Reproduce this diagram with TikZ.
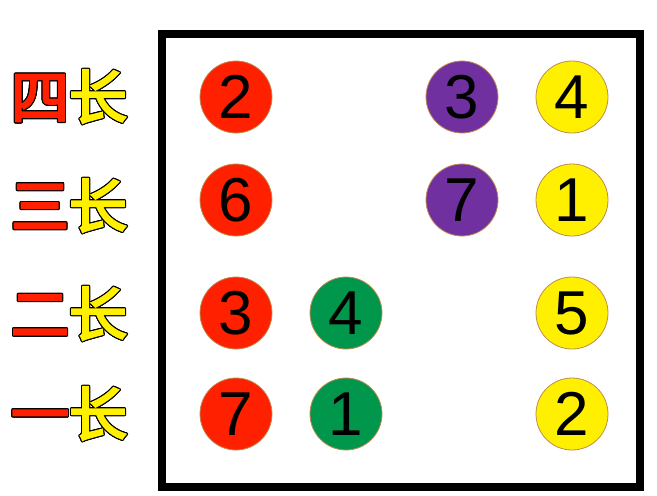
\documentclass[tikz,border=0pt]{standalone}
\usepackage{fontspec}
\setmainfont{Liberation Sans}
\newfontfamily\cjk[FakeBold=4]{Noto Sans CJK SC}
\usepackage{contour}
\contourlength{1.1pt}
\usepackage{tikz}
\usetikzlibrary{positioning}
\definecolor{BallRed}{RGB}{255,32,0}
\definecolor{BallGreen}{RGB}{0,150,76}
\definecolor{BallPurple}{RGB}{112,48,160}
\definecolor{BallYellow}{RGB}{255,240,0}
\definecolor{BallEdge}{RGB}{190,140,80}
\newcommand{\rankname}[1]{{\color{BallRed}\contour{black}{#1}}{\color{BallYellow}\contour{black}{长}}}

\begin{document}
\begin{tikzpicture}[
  x=1pt, y=-1pt,
  ball/.style={circle, draw=BallEdge, line width=0.8pt, minimum size=72pt,
    inner sep=0pt, font=\fontsize{62}{62}\selectfont},
  rank/.style={inner sep=0pt, font=\cjk\fontsize{58}{58}\selectfont},
]
\useasboundingbox (0,0) rectangle (657,496);
\draw[line width=8pt] (162,34) rectangle (640,487);

% row labels
\node[rank] (lab4) at (69,97)  {\rankname{四}};
\node[rank] (lab3) at (69,206) {\rankname{三}};
\node[rank] (lab2) at (69,314) {\rankname{二}};
\node[rank] (lab1) at (69,414) {\rankname{一}};

% balls
\node[ball, fill=BallRed]    (r4c1) at (236,97)  {2};
\node[ball, fill=BallPurple] (r4c3) at (462,97)  {3};
\node[ball, fill=BallYellow] (r4c4) at (572,97)  {4};
\node[ball, fill=BallRed]    (r3c1) at (236,200) {6};
\node[ball, fill=BallPurple] (r3c3) at (462,200) {7};
\node[ball, fill=BallYellow] (r3c4) at (572,200) {1};
\node[ball, fill=BallRed]    (r2c1) at (236,313) {3};
\node[ball, fill=BallGreen]  (r2c2) at (346,313) {4};
\node[ball, fill=BallYellow] (r2c4) at (572,313) {5};
\node[ball, fill=BallRed]    (r1c1) at (236,414) {7};
\node[ball, fill=BallGreen]  (r1c2) at (346,414) {1};
\node[ball, fill=BallYellow] (r1c4) at (572,414) {2};
\end{tikzpicture}
\end{document}
